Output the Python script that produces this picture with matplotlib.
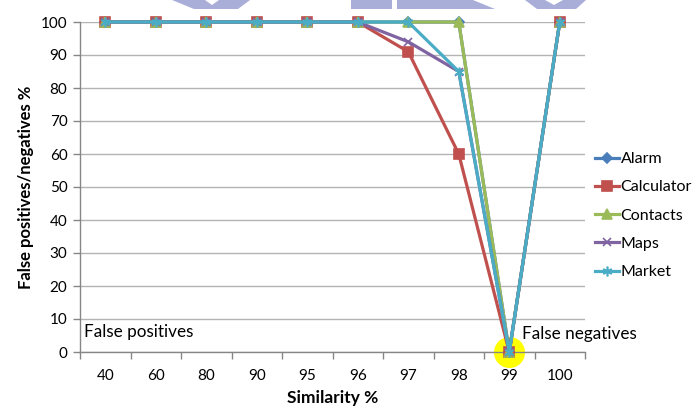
import matplotlib.pyplot as plt
import matplotlib.patches as mpatches
import numpy as np

plt.rcParams['font.family'] = ['Lato', 'DejaVu Sans']

# Similarity thresholds on the x axis
similarity = ["40", "60", "80", "90", "95", "96", "97", "98", "99", "100"]

# False positives / negatives in % per app
alarm = [100, 100, 100, 100, 100, 100, 100, 100, 0, 100]
calculator = [100, 100, 100, 100, 100, 100, 91, 60, 0, 100]
contacts = [100, 100, 100, 100, 100, 100, 100, 100, 0, 100]
maps = [100, 100, 100, 100, 100, 100, 94, 85, 0, 100]
market = [100, 100, 100, 100, 100, 100, 100, 85, 0, 100]

y_ticks = list(range(0, 101, 10))

SERIES = [
    ("Alarm", alarm, '#4A7EBB', 'D', 5),
    ("Calculator", calculator, '#C0504D', 's', 6.5),
    ("Contacts", contacts, '#9BBB59', '^', 7.5),
    ("Maps", maps, '#8064A2', 'x', 6),
    ("Market", market, '#4BACC6', (6, 2, 0), 7),
]

W, H = 698, 412
fig = plt.figure(figsize=(W / 100, H / 100), dpi=100)
ax = fig.add_axes([80 / W, (H - 352) / H, 505 / W, 330 / H])

x = np.arange(len(similarity))

# highlight the crossover point
ax.scatter([x[8]], [0], s=500, color='#FFFF00', zorder=1, clip_on=False,
           linewidths=0)

for name, vals, color, marker, ms in SERIES:
    ax.plot(x, vals, color=color, lw=2.3, marker=marker, markersize=ms,
            markeredgecolor=color, markerfacecolor=color, mew=1.2,
            label=name, zorder=3, clip_on=False)

ax.set_xlim(-0.5, len(similarity) - 0.5)
ax.set_ylim(0, 100)
ax.set_yticks(y_ticks)
ax.yaxis.grid(True, color='#B3B3B3', lw=1)
ax.set_axisbelow(True)

# category labels centred, tick marks between categories
ax.set_xticks(np.arange(-0.5, len(similarity), 1.0))
ax.set_xticklabels([])
ax.set_xticks(x, minor=True)
ax.set_xticklabels(similarity, minor=True)
ax.tick_params(axis='x', which='major', length=5, color='#868686', width=1)
ax.tick_params(axis='x', which='minor', length=0, pad=12, labelsize=11)
ax.tick_params(axis='y', length=5, color='#868686', width=1, labelsize=11, pad=4)

for s in ['top', 'right']:
    ax.spines[s].set_visible(False)
for s in ['left', 'bottom']:
    ax.spines[s].set_color('#868686')
    ax.spines[s].set_linewidth(1)

ax.set_xlabel("Similarity %", fontsize=12.5, fontweight='bold', labelpad=5)
ax.set_ylabel("False positives/negatives %", fontsize=12, fontweight='bold',
              labelpad=5)

ax.text(-0.42, 6, "False positives", fontsize=12.3, va='center', ha='left')
ax.text(8.25, 5.5, "False negatives", fontsize=12.3, va='center', ha='left')

fig.legend(loc='upper left', bbox_to_anchor=(595 / W, 1 - 152 / H),
           frameon=False, fontsize=11.5, handlelength=1.5, handletextpad=0.1,
           labelspacing=0.88, borderaxespad=0, borderpad=0)

# watermark shapes along the top edge
wm = '#A9AED9'
shapes = [
    [(172, 0), (205, 0), (212, 5), (219, 0), (250, 0), (238, 9), (194, 9)],
    [(351, 0), (392, 0), (392, 9), (351, 9)],
    [(397, 0), (473, 0), (495, 9), (397, 9)],
    [(525, 0), (545, 0), (554, 5), (563, 0), (586, 0), (576, 9), (537, 9)],
]
for pts in shapes:
    fig.patches.append(mpatches.Polygon([(px / W, 1 - py / H) for px, py in pts],
                                        closed=True, transform=fig.transFigure,
                                        facecolor=wm, edgecolor='none'))

fig.savefig("out.png", dpi=100)
